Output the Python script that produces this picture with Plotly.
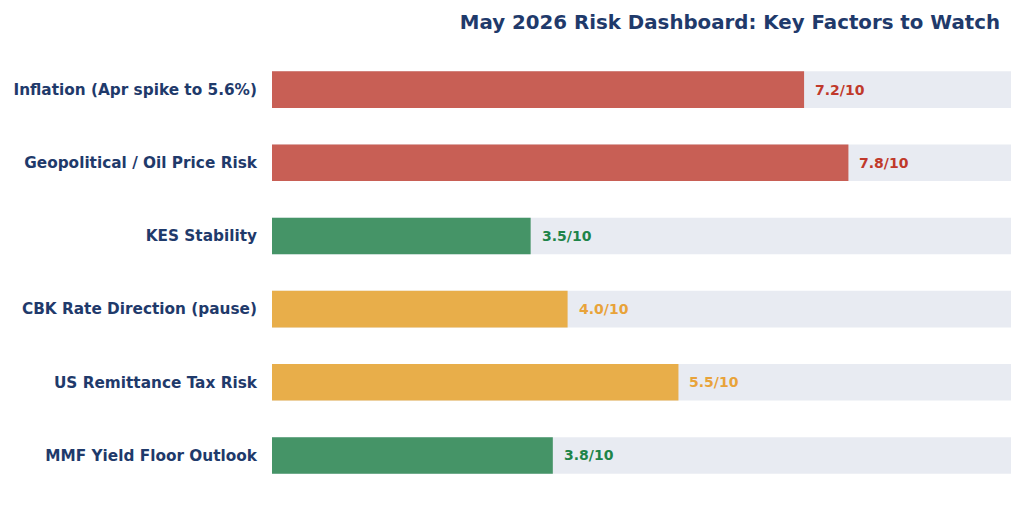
import plotly.graph_objects as go

categories = [
    "Inflation (Apr spike to 5.6%)",
    "Geopolitical / Oil Price Risk",
    "KES Stability",
    "CBK Rate Direction (pause)",
    "US Remittance Tax Risk",
    "MMF Yield Floor Outlook",
]
scores = [7.2, 7.8, 3.5, 4.0, 5.5, 3.8]
max_score = 10
levels = ["high", "high", "low", "medium", "medium", "low"]
value_labels = [f"{v:.1f}/10" for v in scores]

bar_colors = {"high": "#c85f55", "medium": "#e8ae4a", "low": "#459467"}
text_colors = {"high": "#c0392b", "medium": "#e8a33a", "low": "#1e8449"}
navy = "#1f3a6b"

fig = go.Figure()
fig.add_trace(go.Bar(
    y=categories, x=[max_score] * len(categories), orientation="h",
    marker=dict(color="#e8ebf2", line=dict(width=0)), width=0.5,
    hoverinfo="skip", showlegend=False,
))
fig.add_trace(go.Bar(
    y=categories, x=scores, orientation="h",
    marker=dict(color=[bar_colors[l] for l in levels], line=dict(width=0)),
    width=0.5, showlegend=False,
))
for c, v, t, l in zip(categories, scores, value_labels, levels):
    fig.add_annotation(
        x=v, y=c, text=f"<b>{t}</b>", showarrow=False, xanchor="left",
        xshift=9, font=dict(family="DejaVu Sans", size=14, color=text_colors[l]),
    )

fig.update_layout(
    width=1024, height=505,
    barmode="overlay",
    paper_bgcolor="white", plot_bgcolor="white",
    margin=dict(l=272, r=13, t=53, b=13),
    font=dict(family="DejaVu Sans", color=navy),
    title=dict(
        text="<b>May 2026 Risk Dashboard: Key Factors to Watch</b>",
        font=dict(family="DejaVu Sans", size=19.8, color=navy),
        xref="container", x=1000 / 1024, xanchor="right",
        yref="container", y=1 - 22 / 505, yanchor="middle",
    ),
    xaxis=dict(range=[0, max_score], visible=False, fixedrange=True),
    yaxis=dict(
        categoryorder="array", categoryarray=categories,
        range=[5.5, -0.5], showgrid=False, zeroline=False, showline=False,
        ticks="outside", ticklen=11, tickcolor="rgba(0,0,0,0)",
        tickfont=dict(family="DejaVu Sans", size=15.3, color=navy),
        tickprefix="<b>", ticksuffix="</b>",
    ),
)

fig.write_html("out.html")
